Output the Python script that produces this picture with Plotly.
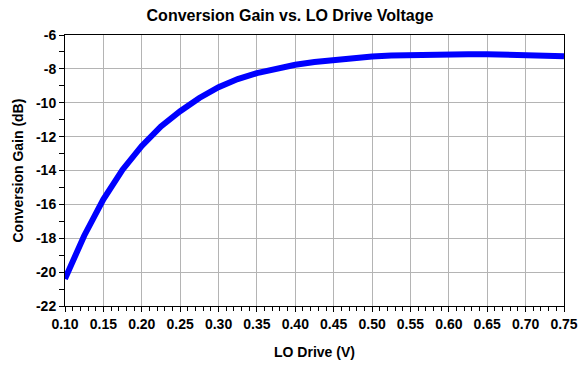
import plotly.graph_objects as go

lo_drive = [0.100, 0.125, 0.150, 0.175, 0.200, 0.225, 0.250, 0.275, 0.300, 0.325,
            0.350, 0.375, 0.400, 0.425, 0.450, 0.475, 0.500, 0.525, 0.550, 0.575,
            0.600, 0.625, 0.650, 0.675, 0.700, 0.725, 0.750]
conv_gain = [-20.4, -17.85, -15.7, -13.95, -12.55, -11.4, -10.5, -9.72, -9.08, -8.6,
             -8.25, -7.96, -7.76, -7.6, -7.48, -7.36, -7.27, -7.21, -7.17, -7.15,
             -7.14, -7.14, -7.14, -7.16, -7.19, -7.22, -7.25]

x_ticks = [0.10, 0.15, 0.20, 0.25, 0.30, 0.35, 0.40, 0.45, 0.50, 0.55, 0.60, 0.65, 0.70, 0.75]
x_labels = ["0.10", "0.15", "0.20", "0.25", "0.30", "0.35", "0.40", "0.45", "0.50",
            "0.55", "0.60", "0.65", "0.70", "0.75"]
y_ticks = [-22, -20, -18, -16, -14, -12, -10, -8, -6]

FONT = "Liberation Sans, Arial, sans-serif"

fig = go.Figure()
fig.add_trace(go.Scatter(x=lo_drive, y=conv_gain, mode="lines",
                         line=dict(color="#0000ff", width=6), showlegend=False))

fig.update_layout(
    width=580, height=367,
    margin=dict(l=65, r=16, t=35, b=61, autoexpand=False),
    paper_bgcolor="white", plot_bgcolor="white",
    font=dict(family=FONT, color="black", size=14),
    title=dict(text="<b>Conversion Gain vs. LO Drive Voltage</b>",
               x=0.5, xanchor="center", y=1 - 15/367, yanchor="middle",
               font=dict(size=16, family=FONT, color="black")),
    annotations=[
        dict(text="<b>Conversion Gain (dB)</b>", textangle=-90,
             xref="paper", yref="paper", x=0, y=0.5,
             xanchor="center", yanchor="middle", xshift=-48,
             showarrow=False, font=dict(size=14, family=FONT, color="black")),
        dict(text="<b>LO Drive (V)</b>",
             xref="paper", yref="paper", x=0.5, y=0,
             xanchor="center", yanchor="middle", yshift=-46,
             showarrow=False, font=dict(size=14, family=FONT, color="black")),
    ],
)
fig.update_xaxes(
    range=[0.1, 0.75], tickvals=x_ticks, ticktext=["<b>%s</b>" % t for t in x_labels],
    showgrid=True, gridcolor="#b4b4b4", gridwidth=1,
    showline=True, linecolor="black", linewidth=1, mirror=True,
    ticks="outside", ticklen=5, tickcolor="black",
    minor=dict(dtick=0.01, tick0=0.1, ticks="outside", ticklen=4, tickcolor="black", showgrid=False),
    tickfont=dict(size=14, family=FONT),
    zeroline=False, automargin=False,
)
fig.update_yaxes(
    range=[-22, -6], tickvals=y_ticks, ticktext=["<b>%d</b>" % t for t in y_ticks],
    showgrid=True, gridcolor="#b4b4b4", gridwidth=1,
    showline=True, linecolor="black", linewidth=1, mirror=True,
    ticks="outside", ticklen=5, tickcolor="black",
    minor=dict(dtick=1, tick0=-22, ticks="outside", ticklen=5, tickcolor="black", showgrid=False),
    tickfont=dict(size=14, family=FONT),
    zeroline=False, automargin=False,
)

fig.write_html("out.html")
